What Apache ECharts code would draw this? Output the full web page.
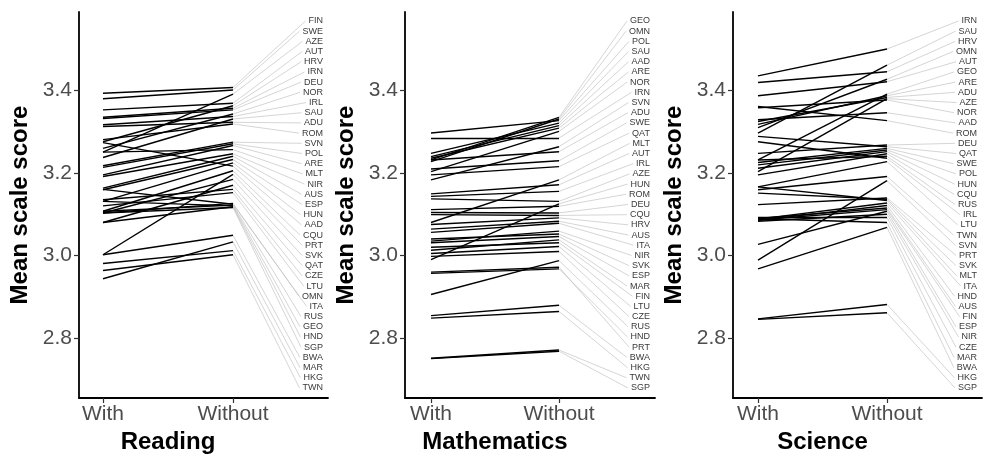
<!DOCTYPE html>
<html><head><meta charset="utf-8">
<script src="https://cdn.jsdelivr.net/npm/echarts@6/dist/echarts.min.js"></script>
<style>html,body{margin:0;padding:0;background:#fff}#c{width:985px;height:459px}</style>
</head><body><div id="c"></div>
<script>
const xCategories = ['With', 'Without'];
const yTicks = [2.8, 3.0, 3.2, 3.4];
const panelTitles = ['Reading', 'Mathematics', 'Science'];
const yTitle = 'Mean scale score';

const readingCountries = ['FIN','SWE','AZE','AUT','HRV','IRN','DEU','NOR','IRL','SAU','ADU','ROM','SVN','POL','ARE','MLT','NIR','AUS','ESP','HUN','AAD','CQU','PRT','SVK','QAT','CZE','LTU','OMN','ITA','RUS','GEO','HND','SGP','BWA','MAR','HKG','TWN'];
const readingWith = [3.392,3.379,3.250,3.352,3.275,3.334,3.331,3.259,3.316,3.237,3.312,3.280,3.217,3.213,3.195,3.250,3.191,3.163,3.159,3.131,3.273,3.107,3.002,3.103,3.080,3.135,3.120,3.103,3.160,3.107,3.131,3.080,3.103,3.002,2.944,2.981,2.964];
const readingWithout = [3.406,3.400,3.390,3.368,3.362,3.356,3.352,3.342,3.336,3.330,3.322,3.318,3.274,3.270,3.266,3.256,3.246,3.240,3.232,3.224,3.216,3.205,3.196,3.184,3.170,3.160,3.152,3.126,3.124,3.122,3.120,3.118,3.116,3.049,3.033,3.012,3.002];

const mathCountries = ['GEO','OMN','POL','SAU','AAD','ARE','NOR','IRN','SVN','ADU','SWE','QAT','MLT','AUT','IRL','AZE','HUN','ROM','DEU','CQU','HRV','AUS','ITA','NIR','SVK','ESP','MAR','FIN','LTU','CZE','RUS','HND','PRT','BWA','HKG','TWN','SGP'];
const mathWith = [3.231,3.227,3.296,3.247,3.239,3.235,3.203,3.284,3.183,3.231,3.209,3.195,3.080,3.149,3.143,3.137,2.990,3.111,3.104,3.099,3.075,3.064,3.056,3.035,3.040,3.031,3.013,3.020,3.005,2.998,2.906,2.957,2.960,2.855,2.849,2.752,2.751];
const mathWithout = [3.334,3.330,3.326,3.320,3.314,3.308,3.300,3.284,3.263,3.251,3.229,3.215,3.183,3.171,3.155,3.131,3.125,3.119,3.103,3.097,3.091,3.083,3.078,3.059,3.052,3.046,3.038,3.031,3.022,3.010,2.988,2.968,2.972,2.880,2.865,2.772,2.769];

const scienceCountries = ['IRN','SAU','HRV','OMN','AUT','GEO','ARE','ADU','AZE','NOR','AAD','ROM','DEU','QAT','SWE','POL','HUN','CQU','RUS','IRL','LTU','TWN','SVN','PRT','SVK','MLT','ITA','HND','AUS','FIN','ESP','NIR','CZE','MAR','BWA','HKG','SGP'];
const scienceWith = [3.434,3.296,3.418,3.309,3.386,3.231,3.317,3.324,3.203,3.357,3.328,3.360,3.247,3.288,3.225,3.219,3.211,3.195,3.231,3.275,3.166,3.159,2.989,3.123,3.151,3.166,3.088,3.085,3.090,3.086,3.027,3.083,3.092,3.089,2.968,2.847,2.846];
const scienceWithout = [3.499,3.460,3.444,3.426,3.420,3.390,3.386,3.382,3.379,3.376,3.345,3.326,3.267,3.263,3.259,3.255,3.251,3.246,3.240,3.235,3.227,3.191,3.181,3.139,3.136,3.133,3.127,3.121,3.115,3.111,3.107,3.100,3.092,3.080,3.068,2.882,2.862];

// layout (pixels)
const gridTopPx = 12, gridBottomPx = 398;
const yMin = 2.656, yMax = 3.5884;
const labelTopVal = 3.5667, labelBottomVal = 2.6802;
const layouts = [
  {axisLeft: 79, withPx: 103, withoutPx: 233, rightPx: 328, labelRight: 323},
  {axisLeft: 405, withPx: 431, withoutPx: 559, rightPx: 655, labelRight: 650},
  {axisLeft: 733, withPx: 758, withoutPx: 887, rightPx: 982, labelRight: 977}
];
const panelsData = [
  {countries: readingCountries, w: readingWith, wo: readingWithout},
  {countries: mathCountries, w: mathWith, wo: mathWithout},
  {countries: scienceCountries, w: scienceWith, wo: scienceWithout}
];

const FONT = '"Liberation Sans", Arial, sans-serif';
const labelFontSize = 9;
const tickFontSize = 21;
const titleFontSize = 24;
const ctx = document.createElement('canvas').getContext('2d');
ctx.font = labelFontSize + 'px ' + FONT;

const grids = [], xAxes = [], yAxes = [], series = [];
layouts.forEach((L, k) => {
  const unit = L.withoutPx - L.withPx;
  const xmin = 1 - (L.withPx - L.axisLeft) / unit;
  const xmax = 2 + (L.rightPx - L.withoutPx) / unit;
  const toX = px => 1 + (px - L.withPx) / unit;
  const P = panelsData[k];
  const n = P.countries.length;
  const labelY = P.countries.map((c, i) => labelTopVal - i * (labelTopVal - labelBottomVal) / (n - 1));
  // x title centred between the two category positions
  const titleShift = (L.axisLeft + L.rightPx) / 2 - (L.withPx + L.withoutPx) / 2;
  grids.push({left: L.axisLeft, top: gridTopPx, width: L.rightPx - L.axisLeft, height: gridBottomPx - gridTopPx});
  xAxes.push({
    gridIndex: k, type: 'value', min: xmin, max: xmax,
    axisLine: {show: true, onZero: false, lineStyle: {color: '#000', width: 1.8}},
    axisTick: {show: true, customValues: [1, 2], length: 5, lineStyle: {color: '#333', width: 1.2}},
    axisLabel: {customValues: [1, 2], formatter: v => xCategories[Math.round(v) - 1], fontSize: tickFontSize, color: '#4d4d4d', margin: 6, fontFamily: FONT},
    splitLine: {show: false},
    name: panelTitles[k], nameLocation: 'middle', nameGap: 31,
    nameTextStyle: {fontSize: titleFontSize, fontWeight: 'bold', color: '#000', fontFamily: FONT, padding: [0, 2 * titleShift, 0, 0]}
  });
  yAxes.push({
    gridIndex: k, type: 'value', min: yMin, max: yMax,
    axisLine: {show: true, lineStyle: {color: '#000', width: 1.8}},
    axisTick: {show: true, customValues: yTicks, length: 5, lineStyle: {color: '#333', width: 1.2}},
    axisLabel: {customValues: yTicks, formatter: v => v.toFixed(1), fontSize: tickFontSize, color: '#4d4d4d', margin: 7, fontFamily: FONT},
    splitLine: {show: false},
    name: yTitle, nameLocation: 'middle', nameGap: 47,
    nameTextStyle: {fontSize: titleFontSize, fontWeight: 'bold', color: '#000', fontFamily: FONT}
  });
  series.push({
    type: 'lines', coordinateSystem: 'cartesian2d', xAxisIndex: k, yAxisIndex: k, silent: true, z: 1,
    lineStyle: {color: '#b8b8b8', width: 0.6, opacity: 1, curveness: 0},
    data: P.countries.map((c, i) => {
      const w = ctx.measureText(c).width;
      return {coords: [[2, P.wo[i]], [toX(L.labelRight - w - 3), labelY[i]]]};
    })
  });
  series.push({
    type: 'lines', coordinateSystem: 'cartesian2d', xAxisIndex: k, yAxisIndex: k, silent: true, z: 2,
    lineStyle: {color: '#000', width: 1.4, opacity: 1, curveness: 0},
    data: P.countries.map((c, i) => ({coords: [[1, P.w[i]], [2, P.wo[i]]]}))
  });
  series.push({
    type: 'scatter', xAxisIndex: k, yAxisIndex: k, silent: true, z: 3,
    symbolSize: 0.1, itemStyle: {color: 'rgba(0,0,0,0)'},
    label: {show: true, position: 'left', distance: 0, formatter: p => p.data[2], fontSize: labelFontSize, color: '#000', fontFamily: FONT},
    data: P.countries.map((c, i) => [toX(L.labelRight), labelY[i], c])
  });
});

const chart = echarts.init(document.getElementById('c'));
chart.setOption({
  animation: false,
  grid: grids, xAxis: xAxes, yAxis: yAxes, series: series
});
</script>
</body></html>
